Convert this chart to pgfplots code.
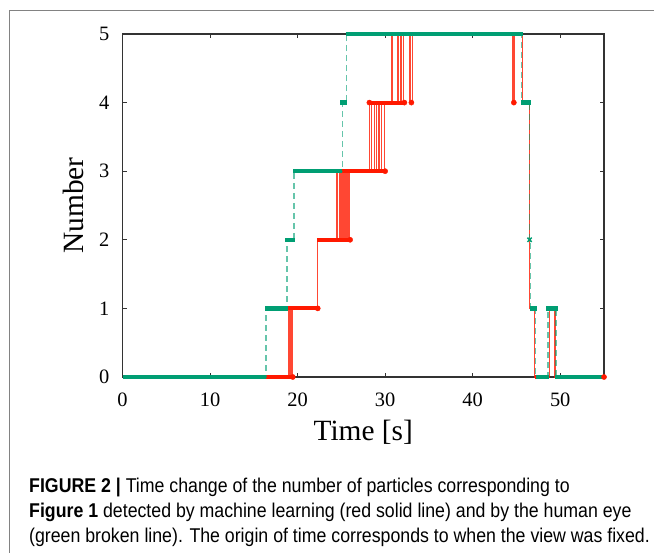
\documentclass[border=0pt]{standalone}
\usepackage{pgfplots}
\usepackage{pgfplotstable}
\pgfplotsset{compat=1.18}
\usepackage{fontspec}
\setmainfont{Liberation Serif}
\newfontfamily\capfont[FakeStretch=0.89]{Liberation Sans}
\definecolor{mlred}{RGB}{255,25,0}
\definecolor{eyegreen}{RGB}{0,158,115}
\definecolor{framegray}{RGB}{130,130,130}

% machine learning (red): thin step line with flicker
\pgfplotstableread{
x y
0 0
18.95 0
18.95 1
19.10 1
19.10 0
19.25 0
19.25 1
19.35 1
19.35 0
19.45 0
19.45 1
22.25 1
22.25 2
24.50 2
24.50 3
24.60 3
24.60 2
24.75 2
24.75 3
24.85 3
24.85 2
25.00 2
25.00 3
25.15 3
25.15 2
25.30 2
25.30 3
25.45 3
25.45 2
25.60 2
25.60 3
25.75 3
25.75 2
25.95 2
25.95 3
28.25 3
28.25 4
28.40 4
28.40 3
28.80 3
28.80 4
29.00 4
29.00 3
29.30 3
29.30 4
29.60 4
29.60 3
29.95 3
29.95 4
30.70 4
30.70 5
30.80 5
30.80 4
31.40 4
31.40 5
31.50 5
31.50 4
31.75 4
31.75 5
31.85 5
31.85 4
32.10 4
32.10 5
32.85 5
32.85 4
33.10 4
33.10 5
44.60 5
44.60 4
44.80 4
44.80 5
45.70 5
45.70 4
46.50 4
46.50 1
47.10 1
47.10 0
48.75 0
48.75 1
49.40 1
49.40 0
55.00 0
}\redsteps

% red: dense frames drawn as thick plateaus
\pgfplotstableread{
x y
0 0
19.45 0
nan nan
18.95 1
22.3 1
nan nan
22.2 2
26.0 2
nan nan
24.5 3
30.0 3
nan nan
28.2 4
32.2 4
nan nan
30.7 5
45.7 5
nan nan
45.7 4
46.5 4
nan nan
46.5 1
47.1 1
nan nan
47.1 0
48.75 0
nan nan
48.75 1
49.4 1
nan nan
49.4 0
55 0
}\redbars

\pgfplotstableread{
x y
19.45 0
22.3 1
26.0 2
30.0 3
28.2 4
32.2 4
33.0 4
44.7 4
55.0 0
}\reddots

% human eye (green): broken step line
\pgfplotstableread{
x y
0 0
16.4 0
16.4 1
18.8 1
18.8 2
19.6 2
19.6 3
25.1 3
25.1 4
25.6 4
25.6 5
45.6 5
45.6 4
46.5 4
46.5 2
46.6 2
46.6 1
47.2 1
47.2 0
48.6 0
48.6 1
49.5 1
49.5 0
55 0
}\greensteps

\pgfplotstableread{
x y
0 0
16.4 0
nan nan
16.3 1
18.9 1
nan nan
18.6 2
19.7 2
nan nan
19.5 3
25.1 3
nan nan
24.9 4
25.7 4
nan nan
25.5 5
45.8 5
nan nan
45.5 4
46.7 4
nan nan
46.5 1
47.4 1
nan nan
47.2 0
48.7 0
nan nan
48.4 1
49.7 1
nan nan
49.4 0
55 0
}\greenbars

\begin{document}
\begin{tikzpicture}[x=1bp,y=1bp]
\path[use as bounding box] (0,0) rectangle (654,553);
\draw[framegray, line width=1bp] (9.5,0) -- (9.5,542) -- (654,542);
\begin{axis}[
    at={(122.5bp,176bp)}, anchor=south west,
    scale only axis, width=481.5bp, height=343bp,
    xmin=0, xmax=55, ymin=0, ymax=5,
    xtick={0,10,...,50}, ytick={0,1,...,5},
    tick align=inside, major tick length=4bp,
    axis line style={black!80, line width=1.2bp},
    every tick/.style={black!80, line width=1bp},
    /pgf/number format/assume math mode=true,
    tick label style={font=\fontsize{20.5}{24}\selectfont},
    xticklabel style={anchor=base, inner sep=0pt, yshift=-30bp},
    yticklabel style={anchor=east, inner sep=0pt, xshift=-13bp},
    xlabel={Time [s]}, ylabel={Number},
    label style={font=\fontsize{29.5}{34}\selectfont, inner sep=0pt},
    xlabel style={at={(axis description cs:0.5,-0.1866)}, anchor=base},
    ylabel style={at={(axis description cs:-0.082,0.5)}, anchor=base},
    clip=false, unbounded coords=jump,
]
\addplot[mlred, line width=4bp, no marks] table {\redbars};
\addplot[mlred, line width=1.2bp, opacity=0.8, no marks] table {\redsteps};
\addplot[mlred, only marks, mark=*, mark size=2.6bp] table {\reddots};
\addplot[eyegreen, line width=4.5bp, no marks] table {\greenbars};
\addplot[eyegreen, line width=1.3bp, opacity=0.6, dash pattern=on 6bp off 4bp, no marks] table {\greensteps};
\addplot[eyegreen, only marks, mark=x, mark size=3bp, line width=1.5bp] coordinates {(46.5,2)};
\end{axis}
\begin{scope}[every node/.style={anchor=base west, inner sep=0pt, font=\capfont\fontsize{20}{24}\selectfont}]
\node at (29,60) {\textbf{FIGURE 2 |} Time change of the number of particles corresponding to};
\node at (29,35) {\textbf{Figure 1} detected by machine learning (red solid line) and by the human eye};
\node at (29,10) {(green broken line). The origin of time corresponds to when the view was fixed.};
\end{scope}
\end{tikzpicture}
\end{document}
